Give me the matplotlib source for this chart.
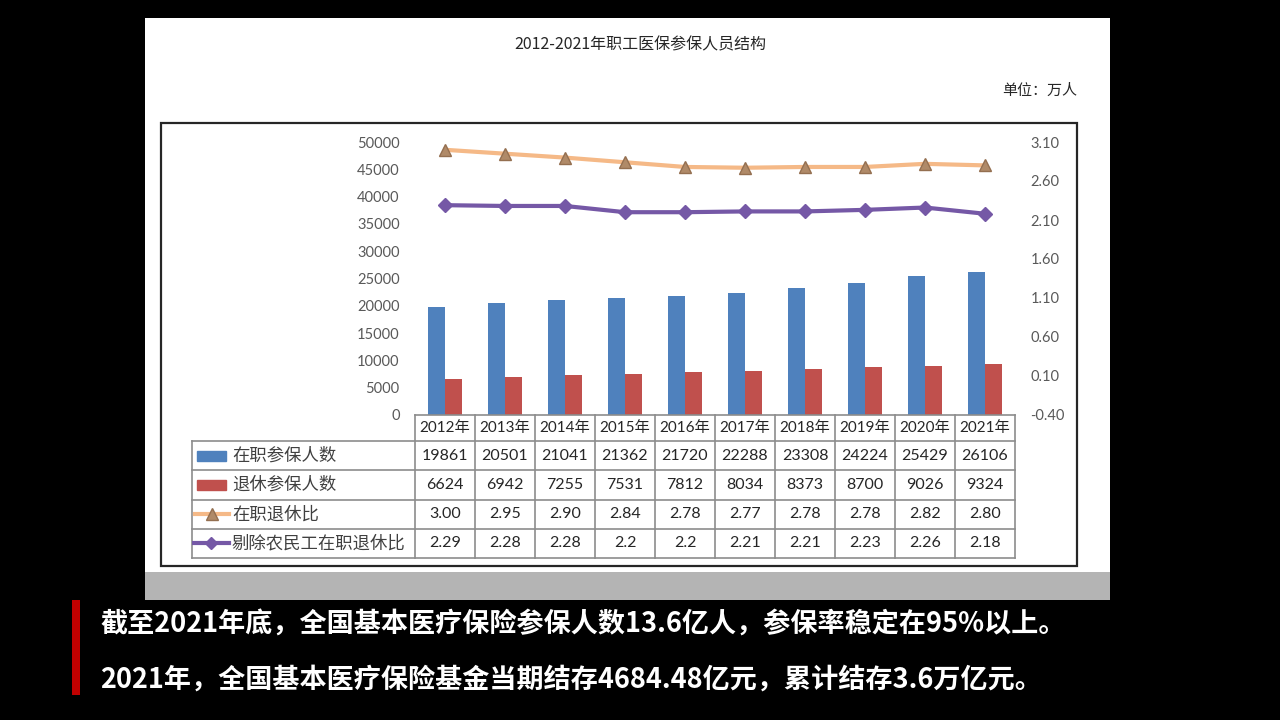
import numpy as np
import matplotlib
matplotlib.use("Agg")
import matplotlib.pyplot as plt
from matplotlib.patches import Rectangle
from matplotlib.ticker import FormatStrFormatter

plt.rcParams['font.family'] = ['Noto Sans CJK SC', 'DejaVu Sans']
plt.rcParams['axes.unicode_minus'] = False

# data
years = ['2012年', '2013年', '2014年', '2015年', '2016年',
         '2017年', '2018年', '2019年', '2020年', '2021年']
active = [19861, 20501, 21041, 21362, 21720, 22288, 23308, 24224, 25429, 26106]
retired = [6624, 6942, 7255, 7531, 7812, 8034, 8373, 8700, 9026, 9324]
ratio = [3.00, 2.95, 2.90, 2.84, 2.78, 2.77, 2.78, 2.78, 2.82, 2.80]
ratio_ex = [2.29, 2.28, 2.28, 2.2, 2.2, 2.21, 2.21, 2.23, 2.26, 2.18]
ratio_txt = ['3.00', '2.95', '2.90', '2.84', '2.78', '2.77', '2.78', '2.78', '2.82', '2.80']
ratio_ex_txt = ['2.29', '2.28', '2.28', '2.2', '2.2', '2.21', '2.21', '2.23', '2.26', '2.18']
series_names = ['在职参保人数', '退休参保人数', '在职退休比', '剔除农民工在职退休比']
title = '2012-2021年职工医保参保人员结构'
unit = '单位：万人'
captions = ['截至2021年底，全国基本医疗保险参保人数13.6亿人，参保率稳定在95%以上。',
            '2021年，全国基本医疗保险基金当期结存4684.48亿元，累计结存3.6万亿元。']

BLUE = '#4f81bd'
RED = '#c0504d'
ORANGE = '#f5b987'
PURPLE = '#7558a6'
GREY_TXT = '#595959'

W, H = 1280, 720
fig = plt.figure(figsize=(12.8, 7.2), dpi=100, facecolor='black')


def rect(x0, y0, x1, y1, **kw):
    r = Rectangle((x0 / W, 1 - y1 / H), (x1 - x0) / W, (y1 - y0) / H,
                  transform=fig.transFigure, zorder=-10, **kw)
    fig.add_artist(r)


def axes_px(x0, y0, x1, y1):
    return fig.add_axes([x0 / W, 1 - y1 / H, (x1 - x0) / W, (y1 - y0) / H])


# white panel, grey strip, frame, red bar
rect(145, 18, 1110, 572, facecolor='white', edgecolor='none')
rect(145, 572, 1110, 600, facecolor='#b4b4b4', edgecolor='none')
rect(161, 123, 1077, 566, facecolor='none', edgecolor='#262626', linewidth=1.6)
rect(72, 600, 80, 695, facecolor='#c00000', edgecolor='none')

fig.text(640 / W, 1 - 45 / H, title, ha='center', va='center', fontsize=11.5,
         color='#262626')
fig.text(1077 / W, 1 - 91 / H, unit, ha='right', va='center', fontsize=10.8,
         color='#262626')

# main chart
ax = axes_px(415, 142, 1015, 415)
ax.set_facecolor('none')
x = np.arange(len(years)) + 0.5
bw = 0.29
ax.bar(x - bw / 2, active, bw, color=BLUE)
ax.bar(x + bw / 2, retired, bw, color=RED)
ax.set_xlim(0, 10)
ax.set_ylim(0, 50000)
ax.set_yticks(np.arange(0, 50001, 5000))
ax.set_xticks([])
for s in ax.spines.values():
    s.set_visible(False)
ax.tick_params(axis='y', length=0, pad=11, labelsize=10.5, labelcolor=GREY_TXT)
for t in ax.get_yticklabels():
    t.set_family(['Lato', 'DejaVu Sans'])

ax2 = ax.twinx()
ax2.plot(x, ratio, color=ORANGE, lw=3, marker='^', ms=9,
         mfc='#b08a68', mec='#946f50', mew=1)
ax2.plot(x, ratio_ex, color=PURPLE, lw=3, marker='D', ms=7,
         mfc=PURPLE, mec=PURPLE)
ax2.set_ylim(-0.4, 3.1)
ax2.set_yticks(np.arange(-0.4, 3.11, 0.5))
ax2.yaxis.set_major_formatter(FormatStrFormatter('%.2f'))
for s in ax2.spines.values():
    s.set_visible(False)
ax2.tick_params(axis='y', length=0, pad=11, labelsize=10.5, labelcolor=GREY_TXT)
for t in ax2.get_yticklabels():
    t.set_family(['Lato', 'DejaVu Sans'])

# data table
tx = axes_px(192, 415, 1015, 558)
left = -223 / 60
hh = 0.9
tx.set_xlim(left, 10)
tx.set_ylim(hh + 4, 0)
tx.axis('off')
lc = '#8c8c8c'
tx.plot([0, 10], [0, 0], color=lc, lw=1.2, clip_on=False)
for r in range(5):
    tx.plot([left, 10], [hh + r, hh + r], color=lc, lw=1.2, clip_on=False)
tx.plot([left, left], [hh, hh + 4], color=lc, lw=1.2, clip_on=False)
for c in range(11):
    tx.plot([c, c], [0, hh + 4], color=lc, lw=1.2, clip_on=False)

num_font = ['Lato', 'Noto Sans CJK SC']
for i, y in enumerate(years):
    tx.text(i + 0.5, hh / 2, y, ha='center', va='center', fontsize=11,
            color='#262626', family=num_font)
rows = [[str(v) for v in active], [str(v) for v in retired], ratio_txt, ratio_ex_txt]
for r, vals in enumerate(rows):
    yc = hh + r + 0.5
    for i, v in enumerate(vals):
        tx.text(i + 0.5, yc, v, ha='center', va='center', fontsize=11.5,
                color='#262626', family=num_font)
    tx.text(-3.05, yc, series_names[r], ha='left', va='center', fontsize=12.5,
            color='#404040')

# legend swatches
tx.add_patch(Rectangle((-3.63, hh + 0.5 - 0.17), 0.48, 0.34, color=BLUE))
tx.add_patch(Rectangle((-3.63, hh + 1.5 - 0.17), 0.48, 0.34, color=RED))
tx.plot([-3.66, -3.1], [hh + 2.5, hh + 2.5], color=ORANGE, lw=3)
tx.plot([-3.38], [hh + 2.5], marker='^', ms=8, mfc='#b08a68', mec='#946f50')
tx.plot([-3.7, -3.1], [hh + 3.5, hh + 3.5], color=PURPLE, lw=3)
tx.plot([-3.4], [hh + 3.5], marker='D', ms=6, color=PURPLE)

# captions
fig.text(100 / W, 1 - 625 / H, captions[0], ha='left', va='center', fontsize=19.5,
         fontweight='bold', color='white')
fig.text(100 / W, 1 - 680 / H, captions[1], ha='left', va='center', fontsize=19.5,
         fontweight='bold', color='white')

fig.savefig('out.png', dpi=100, facecolor='black')
